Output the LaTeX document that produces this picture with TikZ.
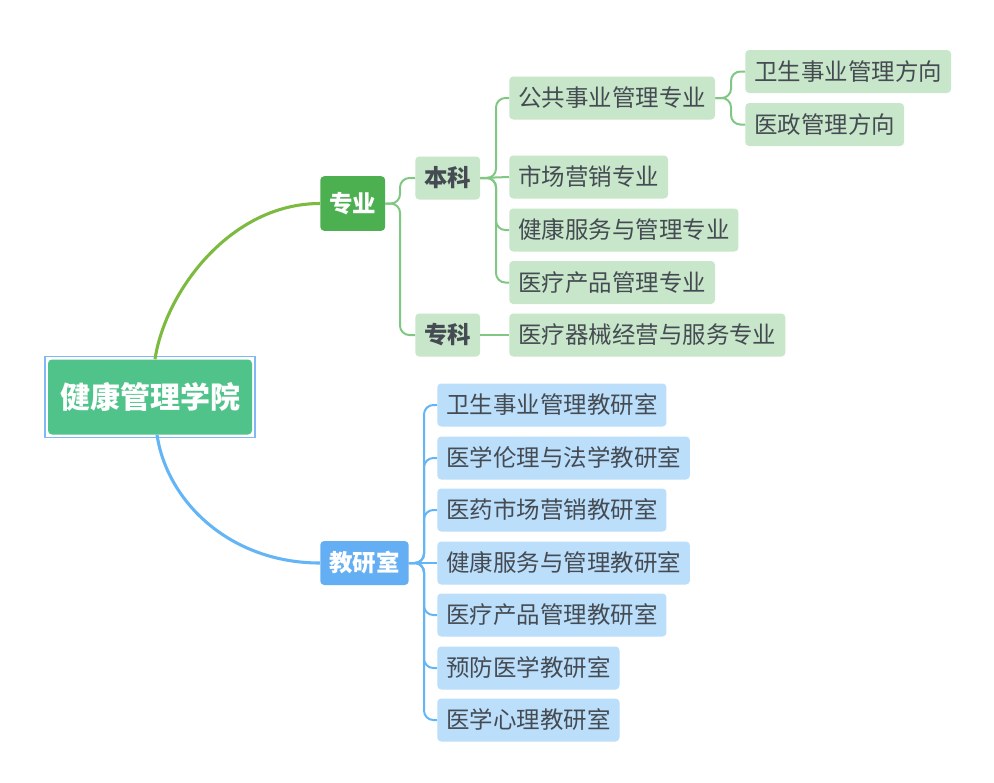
\documentclass[tikz,border=0pt]{standalone}
\usepackage{fontspec}
\newfontfamily\cjk{Noto Sans CJK SC}
\usetikzlibrary{calc}
\definecolor{txt}{HTML}{454B52}
\definecolor{rootg}{HTML}{50C38B}
\definecolor{dgreen}{HTML}{4CAF50}
\definecolor{lgreen}{HTML}{C8E6C9}
\definecolor{dblue}{HTML}{64AFF4}
\definecolor{lblue}{HTML}{BBDEFB}
\definecolor{lineg}{HTML}{81C784}
\definecolor{mainline}{HTML}{7CBB3F}
\definecolor{lineb}{HTML}{64B5F6}
\definecolor{selb}{HTML}{80B7F6}
\tikzset{
  base/.style={rounded corners=3pt, inner xsep=6.75pt, inner ysep=0pt,
    text height=14.6pt, text depth=1.2pt, anchor=west,
    font=\cjk\fontsize{17.6}{20}\selectfont, text=txt},
  lg/.style={base, fill=lgreen, minimum height=32.25pt},
  lb/.style={base, fill=lblue, minimum height=32.25pt},
  lgb/.style={lg, font=\cjk\bfseries\fontsize{17.6}{20}\selectfont, minimum width=47pt},
  topg/.style={base, fill=dgreen, text=white, font=\cjk\bfseries\fontsize{17.6}{20}\selectfont, minimum height=41pt, minimum width=48pt},
  topb/.style={base, fill=dblue, text=white, font=\cjk\bfseries\fontsize{17.6}{20}\selectfont, minimum height=33pt},
  rootst/.style={rounded corners=3pt, fill=rootg, text=white, inner sep=0pt,
    font=\cjk\bfseries\fontsize{22.5}{26}\selectfont, text height=18.7pt, text depth=1.6pt,
    minimum width=153pt, minimum height=56.25pt},
  sel/.style={draw=selb, line width=1.1pt},
  mg/.style={draw=mainline, line width=2.3pt},
  mb/.style={draw=lineb, line width=2.3pt},
  sg/.style={draw=lineg, line width=1.5pt, rounded corners=7pt},
  sb/.style={draw=lineb, line width=1.5pt, rounded corners=7pt}
}
\begin{document}
\begin{tikzpicture}[x=0.75pt,y=-0.75pt]
\path[use as bounding box, fill=white] (0,0) rectangle (994,782);

% root
\node[rootst] (root) at (150,397) {健康管理学院};
\node[sel, fit/.style={}, inner sep=0pt, minimum width=157.5pt, minimum height=60.75pt] (rootsel) at (150,397) {};

% level 1
\node[topg] (zy) at (320,203.5) {专业};
\node[topb] (jys) at (320,563) {教研室};

% level 2
\node[lgb] (bk) at (415,178) {本科};
\node[lgb] (zk) at (415,335) {专科};

% level 3 (undergrad)
\node[lg] (gg) at (509,98) {公共事业管理专业};
\node[lg] (sc) at (509,177) {市场营销专业};
\node[lg] (jk) at (509,230) {健康服务与管理专业};
\node[lg] (yl) at (509,282.5) {医疗产品管理专业};
\node[lg] (qx) at (509,335) {医疗器械经营与服务专业};

% level 4
\node[lg] (ws) at (745,71.5) {卫生事业管理方向};
\node[lg] (yz) at (745,124.5) {医政管理方向};

% teaching rooms
\node[lb] (t1) at (437,405) {卫生事业管理教研室};
\node[lb] (t2) at (437,458) {医学伦理与法学教研室};
\node[lb] (t3) at (437,510) {医药市场营销教研室};
\node[lb] (t4) at (437,563) {健康服务与管理教研室};
\node[lb] (t5) at (437,615) {医疗产品管理教研室};
\node[lb] (t6) at (437,668) {预防医学教研室};
\node[lb] (t7) at (437,720) {医学心理教研室};

% main connectors
\draw[mg] ($(root.north)+(5,0)$) .. controls ($(root.north)+(15,-67)$) and ($(zy.west)+(-90,0)$) .. (zy.west);
\draw[mb] ($(root.south)+(7,0)$) .. controls ($(root.south)+(17,67)$) and ($(jys.west)+(-90,0)$) .. (jys.west);

% spines
\coordinate (s1) at (400,203.5);
\coordinate (s2) at (496,178);
\coordinate (s3) at (731,98);
\coordinate (s4) at (424,563);

\draw[sg] (zy.east) -- (s1) |- (bk.west);
\draw[sg] (zy.east) -- (s1) |- (zk.west);

\draw[sg] (bk.east) -- (s2) |- (gg.west);
\draw[sg] (bk.east) -- (sc.west);
\draw[sg] (bk.east) -- (s2) |- (jk.west);
\draw[sg] (bk.east) -- (s2) |- (yl.west);
\draw[sg] (zk.east) -- (qx.west);

\draw[sg] (gg.east) -- (s3) |- (ws.west);
\draw[sg] (gg.east) -- (s3) |- (yz.west);

\draw[sb] (jys.east) -- (s4) |- (t1.west);
\draw[sb] (jys.east) -- (s4) |- (t2.west);
\draw[sb] (jys.east) -- (s4) |- (t3.west);
\draw[sb] (jys.east) -- (t4.west);
\draw[sb] (jys.east) -- (s4) |- (t5.west);
\draw[sb] (jys.east) -- (s4) |- (t6.west);
\draw[sb] (jys.east) -- (s4) |- (t7.west);
\end{tikzpicture}
\end{document}
